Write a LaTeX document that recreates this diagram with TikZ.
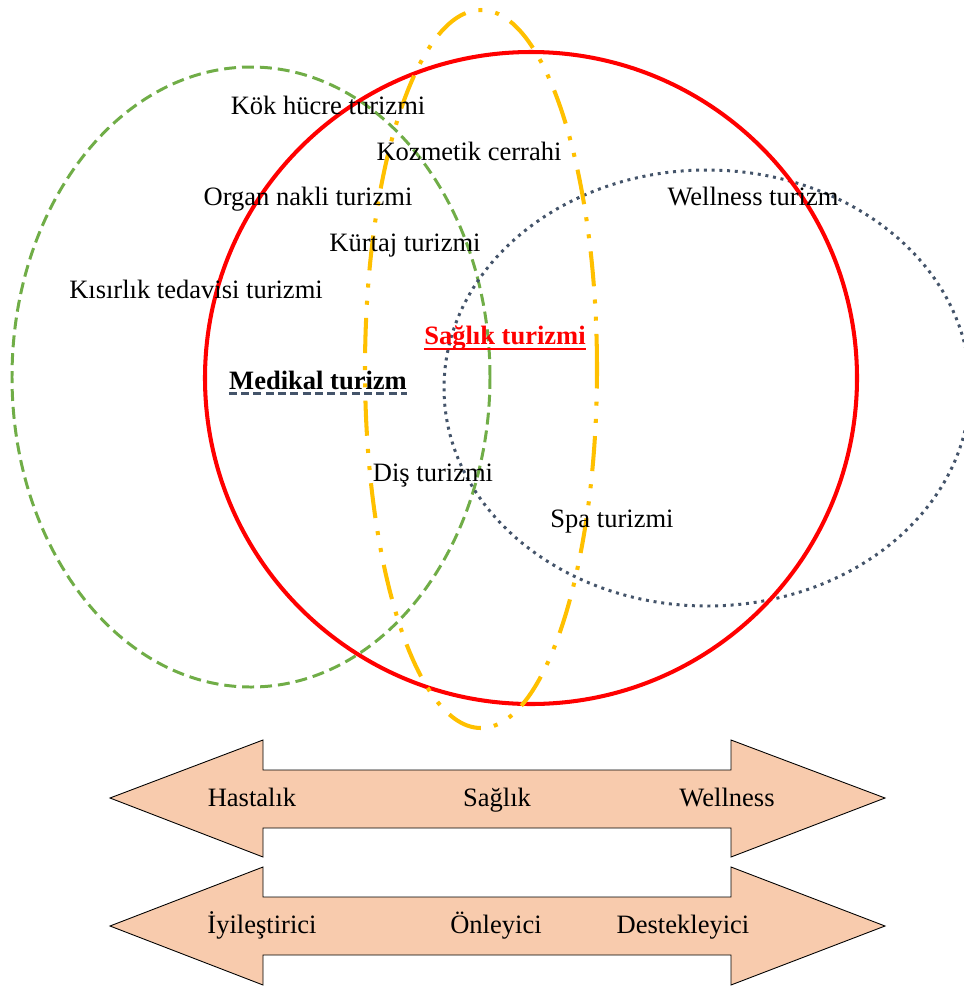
\documentclass[tikz,border=0pt]{standalone}
\usepackage{fontspec}
\setmainfont{Liberation Serif}
\usetikzlibrary{positioning}
\definecolor{setgreen}{RGB}{112, 173, 71}
\definecolor{setred}{RGB}{255, 0, 0}
\definecolor{setyellow}{RGB}{255, 192, 0}
\definecolor{setslate}{RGB}{68, 84, 106}
\definecolor{arrowfill}{RGB}{248, 203, 173}

\begin{document}
\begin{tikzpicture}[x=0.02cm, y=0.02cm,
        term/.style={font=\fontsize{15.1}{18}\selectfont, inner sep=0pt, text height=0.7em, text depth=0.22em, yshift=-2.3pt},
        medical set/.style={draw=setgreen, line width=1.7pt, dash pattern=on 6.8pt off 3.4pt},
        health set/.style={draw=setred, line width=2.3pt},
        beauty set/.style={draw=setyellow, line width=2.3pt, dash pattern=on 20pt off 7.5pt on 2.3pt off 7.5pt on 2.3pt off 7.5pt},
        wellness set/.style={draw=setslate, line width=1.7pt, dash pattern=on 1.7pt off 2.7pt},
        scale arrow/.style={draw=black, line width=0.5pt, fill=arrowfill}]

            \useasboundingbox (0, 0) rectangle (964, -988);
            \clip (0, 0) rectangle (964, -988);

            % The four overlapping sets
            \draw[medical set] (251, -377) ellipse [x radius=239, y radius=310];
            \draw[wellness set] (707, -388) ellipse [x radius=263, y radius=218];
            \draw[health set] (531, -378) circle [radius=326];
            \draw[beauty set] (481, -369) ellipse [x radius=116, y radius=359];

            % Labels inside the sets
            \node[term] (stemcell) at (328, -106) {Kök hücre turizmi};
            \node[term] (cosmetic) at (469, -152) {Kozmetik cerrahi};
            \node[term] (organ) at (308, -197) {Organ nakli turizmi};
            \node[term] (abortion) at (405, -243) {Kürtaj turizmi};
            \node[term] (fertility) at (196, -290) {Kısırlık tedavisi turizmi};
            \node[term] (wellness) at (753, -197) {Wellness turizm};
            \node[term] (dental) at (433, -473) {Diş turizmi};
            \node[term] (spa) at (612, -519) {Spa turizmi};

            % Set titles
            \node[term, font=\fontsize{15.1}{18}\selectfont\bfseries, text=setred] (health) at (505, -336) {Sağlık turizmi};
            \node[term, font=\fontsize{15.1}{18}\selectfont\bfseries] (medical) at (318, -381) {Medikal turizm};
            \draw[setred, line width=1.2pt] ([yshift=-2.8pt]health.base west) -- ([yshift=-2.8pt]health.base east);
            \draw[setslate, line width=1.2pt, dash pattern=on 4.5pt off 2.5pt] ([yshift=-2.4pt]medical.base west) -- ([yshift=-2.4pt]medical.base east);

            % Double arrows below
            \draw[scale arrow] (110, -798) -- (263, -740) -- (263, -770) -- (731, -770) -- (731, -740)
                -- (885, -798) -- (731, -857) -- (731, -828) -- (263, -828) -- (263, -857) -- cycle;
            \draw[scale arrow] (110, -926) -- (263, -867) -- (263, -897) -- (731, -897) -- (731, -867)
                -- (885, -926) -- (731, -985) -- (731, -955) -- (263, -955) -- (263, -985) -- cycle;

            \node[term] (illness) at (252, -798) {Hastalık};
            \node[term] (health state) at (497, -798) {Sağlık};
            \node[term] (wellbeing) at (727, -798) {Wellness};
            \node[term] (curative) at (262, -925) {İyileştirici};
            \node[term] (preventive) at (496, -925) {Önleyici};
            \node[term] (supportive) at (683, -925) {Destekleyici};

    \end{tikzpicture}
\end{document}
